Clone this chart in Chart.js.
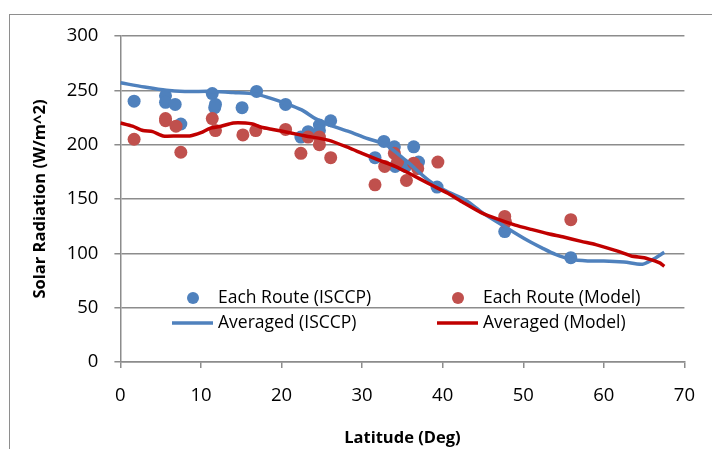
<!DOCTYPE html>
<html>
<head>
<meta charset="utf-8">
<script src="https://cdn.jsdelivr.net/npm/chart.js@4.4.0/dist/chart.umd.min.js"></script>
<style>
body { margin: 0; background: #fff; }
#wrap { position: relative; width: 712px; height: 449px; overflow: hidden; }
#frame { position: absolute; left: 9px; top: 14px; width: 800px; height: 500px;
         border-left: 1.5px solid #8e8e8e; border-top: 1.5px solid #8e8e8e; }
canvas { position: absolute; left: 0; top: 0; }
</style>
</head>
<body>
<div id="wrap">
  <div id="frame"></div>
  <canvas id="chart" width="712" height="449"></canvas>
</div>
<script>
// each route, ISCCP
const isccpLat = [1.7, 5.6, 5.6, 6.8, 7.5, 11.4, 11.7, 11.8, 15.1, 16.9, 20.5, 22.4, 23.3, 24.7, 24.7, 26.1, 31.6, 32.7, 34.0, 34.1, 35.4, 36.4, 37.0, 39.3, 47.7, 55.9];
const isccpRad = [240, 245, 239, 237, 219, 247, 234, 237, 234, 249, 237, 207, 212, 218, 213, 222, 188, 203, 198, 180, 180, 198, 184, 161, 120, 96];

// each route, model
const modelLat = [1.7, 5.6, 5.6, 6.9, 7.5, 11.4, 11.8, 15.2, 16.8, 20.5, 22.4, 23.3, 24.7, 24.7, 26.1, 31.6, 32.8, 34.0, 34.4, 35.5, 36.4, 36.9, 39.4, 47.7, 47.8, 55.9];
const modelRad = [205, 224, 222, 217, 193, 224, 213, 209, 213, 214, 192, 207, 207, 200, 188, 163, 180, 192, 184, 167, 183, 178, 184, 134, 129, 131];

// averaged, ISCCP
const avgIsccpLat = [0, 3, 5.7, 8, 11.4, 14, 16.8, 18.5, 20.5, 22.5, 24.2, 26, 28.4, 30.5, 32.9, 35.5, 38.3, 40.5, 42.8, 45, 47.7, 50.5, 52.3, 54, 55.9, 58, 60, 62.5, 64.8, 66, 67.5];
const avgIsccpRad = [257, 253, 250, 249, 249, 248, 246.5, 243, 238, 232, 224, 218, 212, 206, 200, 185, 167, 157, 149, 137, 124.5, 112, 105, 99, 94.5, 93, 93, 92, 90, 94, 101];

// averaged, model
const avgModelLat = [0, 1.5, 2.8, 4, 5.3, 7, 8.6, 10, 11.1, 12.5, 14, 15.5, 16.4, 17.5, 18.9, 21, 23, 25.9, 28.4, 30, 32, 34.1, 36, 38.3, 40.7, 42.4, 44.9, 47, 49, 51, 53.1, 55, 57.2, 59, 61.3, 62.5, 63.4, 65, 65.9, 67, 67.5];
const avgModelRad = [220, 217, 213, 212, 208, 208, 208, 211, 215, 217, 220, 220, 219, 216, 214, 211, 208, 204, 197, 192, 186, 180, 173, 164, 155, 147.5, 137, 131, 126, 122, 118, 115, 111, 108, 103, 100, 97.5, 96, 94, 91, 88];

const seriesNames = ['Each Route (ISCCP)', 'Each Route (Model)', 'Averaged (ISCCP)', 'Averaged (Model)'];

const FONT = "'Open Sans', 'DejaVu Sans', sans-serif";
const GRID = '#8c8c8c';

function pts(xs, ys) {
    return xs.map((x, i) => ({x: x, y: ys[i]}));
}

// legend drawn inside the plot, two columns like the original
const routeLegend = {
    id: 'routeLegend',
    afterDraw(chart) {
        const ctx = chart.ctx;
        const cols = [172, 437];
        const rows = [298, 323];
        ctx.save();
        ctx.font = '17.5px ' + FONT;
        ctx.textBaseline = 'middle';
        chart.data.datasets.forEach((ds, i) => {
            const x = cols[i % 2];
            const y = rows[Math.floor(i / 2)];
            if (ds.showLine) {
                ctx.strokeStyle = ds.borderColor;
                ctx.lineWidth = ds.borderWidth;
                ctx.beginPath();
                ctx.moveTo(x, y);
                ctx.lineTo(x + 41, y);
                ctx.stroke();
            } else {
                ctx.fillStyle = ds.backgroundColor;
                ctx.beginPath();
                ctx.arc(x + 21, y, 6, 0, Math.PI * 2);
                ctx.fill();
            }
            ctx.fillStyle = '#000';
            ctx.fillText(ds.label, x + 46, y);
        });
        ctx.restore();
    }
};

new Chart(document.getElementById('chart'), {
    type: 'scatter',
    data: {
        datasets: [
            {
                label: seriesNames[0],
                data: pts(isccpLat, isccpRad),
                backgroundColor: '#4f81bd',
                borderColor: '#4f81bd',
                pointRadius: 6.5,
                borderWidth: 0,
                order: 3
            },
            {
                label: seriesNames[1],
                data: pts(modelLat, modelRad),
                backgroundColor: '#c0504d',
                borderColor: '#c0504d',
                pointRadius: 6.5,
                borderWidth: 0,
                order: 2
            },
            {
                label: seriesNames[2],
                data: pts(avgIsccpLat, avgIsccpRad),
                showLine: true,
                borderColor: '#4f81bd',
                backgroundColor: '#4f81bd',
                borderWidth: 3.5,
                pointRadius: 0,
                tension: 0.3,
                order: 1
            },
            {
                label: seriesNames[3],
                data: pts(avgModelLat, avgModelRad),
                showLine: true,
                borderColor: '#c00000',
                backgroundColor: '#c00000',
                borderWidth: 3.5,
                pointRadius: 0,
                tension: 0.2,
                order: 0
            }
        ]
    },
    options: {
        responsive: false,
        animation: false,
        layout: {padding: {left: 30.6, right: 25, top: 36, bottom: 1}},
        plugins: {
            legend: {display: false},
            tooltip: {enabled: false}
        },
        scales: {
            x: {
                type: 'linear',
                min: 0,
                max: 70,
                ticks: {stepSize: 10, color: '#000', font: {family: FONT, size: 18.5}, padding: 17},
                grid: {display: true, drawOnChartArea: false, color: GRID, lineWidth: 1.5, tickLength: 6},
                border: {color: GRID, width: 1.5},
                title: {display: true, text: 'Latitude (Deg)', color: '#000',
                        font: {family: FONT, size: 16.5, weight: 'bold'}, padding: 0},
                afterFit(scale) { scale.height = 86; }
            },
            y: {
                min: 0,
                max: 300,
                ticks: {stepSize: 50, color: '#000', font: {family: FONT, size: 18.5}, padding: 16},
                grid: {color: GRID, lineWidth: 1.5, tickLength: 6},
                border: {color: GRID, width: 1.5},
                title: {display: true, text: 'Solar Radiation (W/m^2)', color: '#000',
                        font: {family: FONT, size: 16.5, weight: 'bold'}, padding: 0},
                afterFit(scale) { scale.width = 89.8; }
            }
        }
    },
    plugins: [routeLegend]
});
</script>
</body>
</html>
